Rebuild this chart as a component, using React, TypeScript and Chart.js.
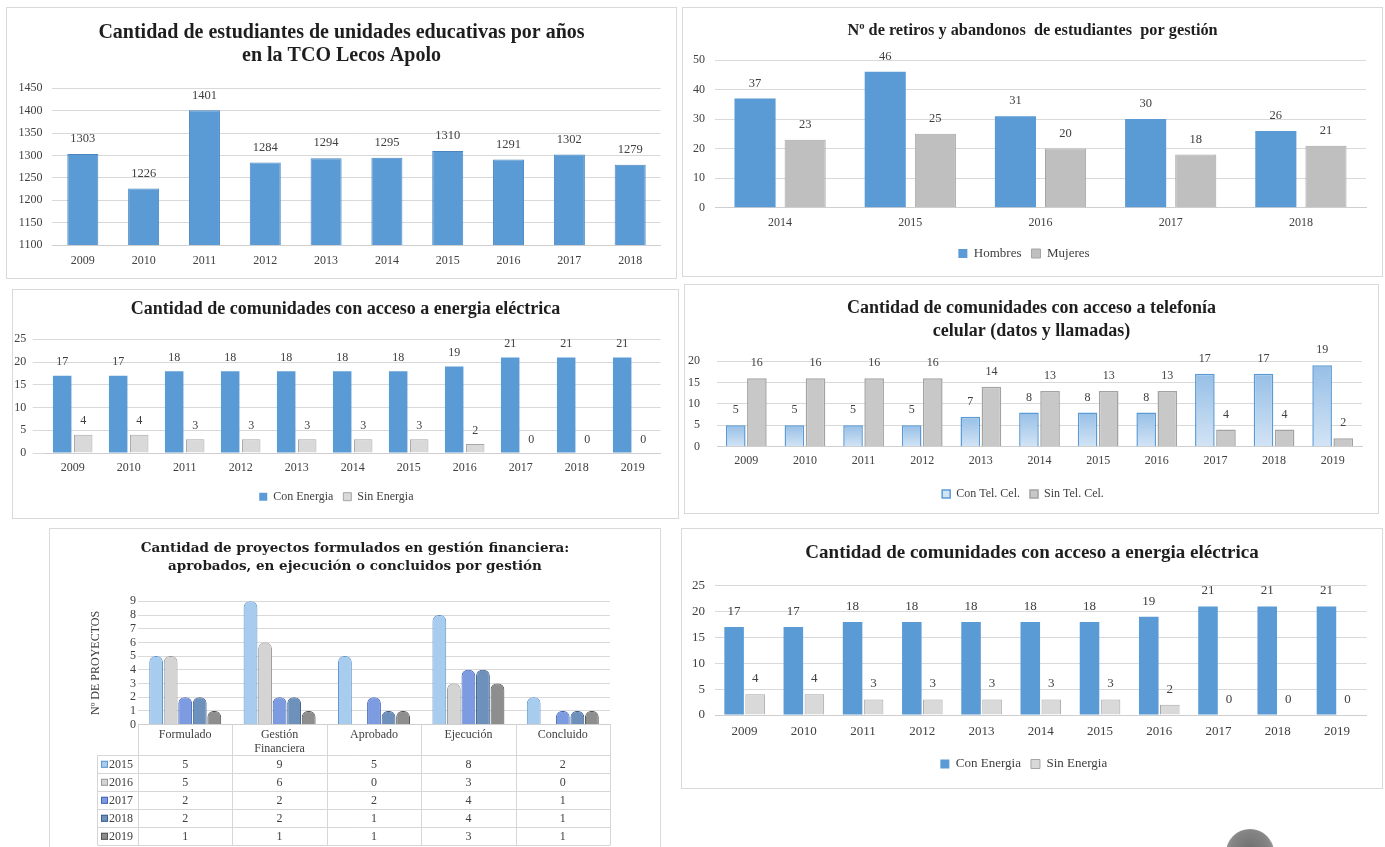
import React, { useEffect, useRef } from 'react';
import { Chart, registerables } from 'chart.js';

Chart.register(...registerables);

const SERIF = "'Liberation Serif', 'Times New Roman', serif";
const WIDE_SERIF = "'DejaVu Serif', 'Liberation Serif', serif";
Chart.defaults.font.family = SERIF;
Chart.defaults.color = '#404040';

// ---------- Data ----------
const studentTitle = ['Cantidad de estudiantes de unidades educativas por años', 'en la TCO Lecos Apolo'];
const studentYears = ['2009', '2010', '2011', '2012', '2013', '2014', '2015', '2016', '2017', '2018'];
const studentCounts = [1303, 1226, 1401, 1284, 1294, 1295, 1310, 1291, 1302, 1279];

const dropTitle = ['Nº de retiros y abandonos  de estudiantes  por gestión'];
const dropYears = ['2014', '2015', '2016', '2017', '2018'];
const dropMen = [37, 46, 31, 30, 26];
const dropWomen = [23, 25, 20, 18, 21];

const energyTitle = ['Cantidad de comunidades con acceso a energia eléctrica'];
const energyYears = ['2009', '2010', '2011', '2012', '2013', '2014', '2015', '2016', '2017', '2018', '2019'];
const energyWith = [17, 17, 18, 18, 18, 18, 18, 19, 21, 21, 21];
const energyWithout = [4, 4, 3, 3, 3, 3, 3, 2, 0, 0, 0];

const phoneTitle = ['Cantidad de comunidades con acceso a telefonía', 'celular (datos y llamadas)'];
const phoneYears = ['2009', '2010', '2011', '2012', '2013', '2014', '2015', '2016', '2017', '2018', '2019'];
const phoneWith = [5, 5, 5, 5, 7, 8, 8, 8, 17, 17, 19];
const phoneWithout = [16, 16, 16, 16, 14, 13, 13, 13, 4, 4, 2];

const projectTitle = ['Cantidad de proyectos formulados en gestión financiera:', 'aprobados, en ejecución o concluidos por gestión'];
const projectStages = [['Formulado'], ['Gestión', 'Financiera'], ['Aprobado'], ['Ejecución'], ['Concluido']];
const projectYears = ['2015', '2016', '2017', '2018', '2019'];
const projects2015 = [5, 9, 5, 8, 2];
const projects2016 = [5, 6, 0, 3, 0];
const projects2017 = [2, 2, 2, 4, 1];
const projects2018 = [2, 2, 1, 4, 1];
const projects2019 = [1, 1, 1, 3, 1];

// ---------- Styling ----------
const GRID = '#D9D9D9';
const TEXT = '#404040';
const BLUE = '#5B9BD5';

function titlePlugin(lines: string[], size: number, centers: number[], family: string = SERIF) {
  return {
    id: 'panelTitle',
    afterDraw(chart: any) {
      const ctx = chart.ctx;
      ctx.save();
      ctx.font = `bold ${size}px ${family}`;
      ctx.fillStyle = '#1E1E1E';
      ctx.textAlign = 'center';
      ctx.textBaseline = 'middle';
      lines.forEach((line, i) => ctx.fillText(line, chart.width / 2, centers[i]));
      ctx.restore();
    },
  };
}

function valueLabelPlugin(offset: number, size: number) {
  return {
    id: 'valueLabels',
    afterDatasetsDraw(chart: any) {
      const ctx = chart.ctx;
      ctx.save();
      ctx.font = `${size}px ${SERIF}`;
      ctx.fillStyle = TEXT;
      ctx.textAlign = 'center';
      ctx.textBaseline = 'middle';
      chart.data.datasets.forEach((ds: any, i: number) => {
        const meta = chart.getDatasetMeta(i);
        meta.data.forEach((el: any, j: number) => {
          ctx.fillText(String(ds.data[j]), el.x, el.y - offset);
        });
      });
      ctx.restore();
    },
  };
}

const projectTablePlugin = {
  id: 'projectTable',
  afterDraw(chart: any) {
    const { ctx, chartArea } = chart;
    const x = chart.scales.x;
    const n = chart.data.labels.length;
    const step = x.getPixelForValue(1) - x.getPixelForValue(0);
    const start = x.getPixelForValue(0) - step / 2;
    const end = start + step * n;
    const headTop = chartArea.bottom;
    const headBottom = headTop + 30.7;
    const rowH = 18;
    const rows = chart.data.datasets.length;
    const tableBottom = headBottom + rowH * rows;
    const colLeft = chartArea.left - 41;
    ctx.save();
    ctx.strokeStyle = '#D6D6D6';
    ctx.lineWidth = 1;
    ctx.beginPath();
    for (let i = 0; i <= n; i++) {
      const px = Math.round(start + step * i) + 0.5;
      ctx.moveTo(px, headTop);
      ctx.lineTo(px, tableBottom);
    }
    const lx = Math.round(colLeft) + 0.5;
    ctx.moveTo(lx, headBottom);
    ctx.lineTo(lx, tableBottom);
    for (let r = 0; r <= rows; r++) {
      const py = Math.round(headBottom + rowH * r) + 0.5;
      ctx.moveTo(lx, py);
      ctx.lineTo(end, py);
    }
    ctx.stroke();
    ctx.font = `12px ${SERIF}`;
    ctx.textBaseline = 'middle';
    chart.data.datasets.forEach((ds: any, r: number) => {
      const cy = headBottom + rowH * r + rowH / 2;
      ctx.fillStyle = ds.backgroundColor;
      ctx.strokeStyle = ds.borderColor;
      ctx.fillRect(colLeft + 4, cy - 3.5, 7, 7);
      ctx.strokeRect(colLeft + 4.5, cy - 3, 6, 6);
      ctx.fillStyle = TEXT;
      ctx.textAlign = 'left';
      ctx.fillText(ds.label, colLeft + 12, cy + 0.5);
      ctx.textAlign = 'center';
      ds.data.forEach((v: number, i: number) => {
        ctx.fillText(String(v), x.getPixelForValue(i), cy + 0.5);
      });
    });
    ctx.restore();
  },
};

function barConfig(o: any) {
  return {
    type: 'bar',
    data: {
      labels: o.labels,
      datasets: o.datasets.map((d: any) => ({
        borderWidth: 0,
        ...d,
        categoryPercentage: o.catPct,
        barPercentage: o.barPct,
      })),
    },
    options: {
      responsive: false,
      animation: false,
      events: [],
      layout: { padding: { left: 0, right: o.padRight, top: o.padTop, bottom: o.padBottom } },
      plugins: {
        title: { display: false },
        legend: o.legend
          ? {
              display: true,
              position: 'bottom',
              labels: {
                color: TEXT,
                font: { family: SERIF, size: o.legendSize },
                boxWidth: o.legendBox,
                boxHeight: o.legendBox,
                padding: 10,
              },
            }
          : { display: false },
        tooltip: { enabled: false },
      },
      scales: {
        x: {
          grid: { display: false, drawTicks: false },
          border: { display: true, color: '#CFCFCF', width: 1 },
          ticks: {
            color: TEXT,
            font: { family: SERIF, size: o.xSize, lineHeight: o.xLH || 1.2 },
            padding: o.xPad,
            maxRotation: 0,
            minRotation: 0,
            autoSkip: false,
          },
          afterFit: (s: any) => {
            s.height = o.xHeight;
          },
        },
        y: {
          min: o.yMin,
          max: o.yMax,
          grid: { color: GRID, lineWidth: 1, drawTicks: !!o.yTick, tickLength: o.yTick || 0 },
          border: { display: false },
          ticks: {
            stepSize: o.yStep,
            autoSkip: false,
            color: TEXT,
            font: { family: SERIF, size: o.ySize },
            padding: o.yPad,
            callback: (v: any) => String(v),
          },
          title: o.yTitle
            ? {
                display: true,
                text: o.yTitle,
                color: TEXT,
                font: { family: SERIF, size: 12 },
                padding: { top: o.yTitlePad, bottom: 0 },
              }
            : { display: false },
          afterFit: (s: any) => {
            s.width = o.yWidth;
          },
        },
      },
    },
    plugins: [titlePlugin(o.title, o.titleSize, o.titleCenters, o.titleFamily || SERIF), ...(o.plugins || [])],
  };
}

function phoneGradient(c: any) {
  const chart = c.chart;
  if (c.type !== 'data' || !chart.chartArea || !chart.scales.y) return '#A9CBEB';
  const y = chart.scales.y;
  const top = y.getPixelForValue(c.raw);
  const bottom = y.getPixelForValue(0);
  if (!isFinite(top) || !isFinite(bottom) || top === bottom) return '#A9CBEB';
  const g = chart.ctx.createLinearGradient(0, top, 0, bottom);
  g.addColorStop(0, '#96BFE6');
  g.addColorStop(1, '#D3E4F5');
  return g;
}

// ---------- Chart factories ----------
const makeStudents = () =>
  barConfig({
    labels: studentYears,
    datasets: [{ label: 'Estudiantes', data: studentCounts, backgroundColor: BLUE, borderColor: '#4A85C0', borderWidth: 1 }],
    catPct: 1, barPct: 0.51,
    padRight: 16.4, padTop: 81.3, padBottom: 10,
    title: studentTitle, titleSize: 20, titleCenters: [26, 49.3],
    legend: false,
    xSize: 12, xPad: 8.8, xHeight: 24,
    yMin: 1100, yMax: 1450, yStep: 50, ySize: 12, yPad: 10, yWidth: 46.4,
    plugins: [valueLabelPlugin(15, 12.5)],
  });

const makeDropouts = () =>
  barConfig({
    labels: dropYears,
    datasets: [
      { label: 'Hombres', data: dropMen, backgroundColor: BLUE, borderColor: BLUE, borderWidth: 0 },
      { label: 'Mujeres', data: dropWomen, backgroundColor: '#BFBFBF', borderColor: '#A5A5A5', borderWidth: 1 },
    ],
    catPct: 0.77, barPct: 0.82,
    padRight: 17, padTop: 53, padBottom: 7,
    title: dropTitle, titleSize: 16.3, titleCenters: [23.7],
    legend: true, legendSize: 13, legendBox: 9,
    xSize: 12, xPad: 7.8, xHeight: 29.3,
    yMin: 0, yMax: 50, yStep: 10, ySize: 12, yPad: 10, yWidth: 33,
    plugins: [valueLabelPlugin(15, 12.5)],
  });

const makeEnergyA = () =>
  barConfig({
    labels: energyYears,
    datasets: [
      { label: 'Con Energia', data: energyWith, backgroundColor: BLUE, borderColor: BLUE, borderWidth: 0 },
      { label: 'Sin Energia', data: energyWithout, backgroundColor: '#D9D9D9', borderColor: '#A6A6A6', borderWidth: 1 },
    ],
    catPct: 0.75, barPct: 0.88,
    padRight: 18.3, padTop: 50.3, padBottom: 6.3,
    title: energyTitle, titleSize: 18, titleCenters: [20],
    legend: true, legendSize: 12, legendBox: 8,
    xSize: 12, xPad: 8.1, xHeight: 27.7,
    yMin: 0, yMax: 25, yStep: 5, ySize: 12, yPad: 6.5, yWidth: 32.7, yTick: 12,
    plugins: [valueLabelPlugin(13.5, 12)],
  });

const makePhone = () =>
  barConfig({
    labels: phoneYears,
    datasets: [
      { label: 'Con Tel. Cel.', data: phoneWith, backgroundColor: phoneGradient, borderColor: BLUE, borderWidth: 1.5 },
      { label: 'Sin Tel. Cel.', data: phoneWithout, backgroundColor: '#C8C8C8', borderColor: '#A3A3A3', borderWidth: 1.5 },
    ],
    catPct: 0.72, barPct: 0.93,
    padRight: 17, padTop: 77, padBottom: 4,
    title: phoneTitle, titleSize: 18, titleCenters: [24.3, 47.7],
    legend: true, legendSize: 12, legendBox: 8,
    xSize: 12, xPad: 6.8, xHeight: 31.3,
    yMin: 0, yMax: 20, yStep: 5, ySize: 12, yPad: 17, yWidth: 33,
    plugins: [valueLabelPlugin(15, 12)],
  });

const makeProjects = () =>
  barConfig({
    labels: projectStages,
    datasets: [
      { label: projectYears[0], data: projects2015, backgroundColor: '#A8CCEE', borderColor: '#5E97D1', borderWidth: 1 },
      { label: projectYears[1], data: projects2016, backgroundColor: '#D4D4D4', borderColor: '#9A9A9A', borderWidth: 1 },
      { label: projectYears[2], data: projects2017, backgroundColor: '#7D9BE0', borderColor: '#4565B8', borderWidth: 1 },
      { label: projectYears[3], data: projects2018, backgroundColor: '#6E91BC', borderColor: '#3E5F8C', borderWidth: 1 },
      { label: projectYears[4], data: projects2019, backgroundColor: '#8E8E8E', borderColor: '#555555', borderWidth: 1 },
    ].map((d) => ({ ...d, borderRadius: { topLeft: 6, topRight: 6 }, borderSkipped: 'start' })),
    catPct: 0.77, barPct: 0.95,
    padRight: 51, padTop: 73.3, padBottom: 0,
    title: projectTitle, titleSize: 13.5, titleCenters: [20.3, 38], titleFamily: WIDE_SERIF,
    legend: false,
    xSize: 12, xLH: 1.1, xPad: 4.1, xHeight: 122.4,
    yMin: 0, yMax: 9, yStep: 1, ySize: 12, yPad: 2, yWidth: 89,
    yTitle: 'Nº DE PROYECTOS', yTitlePad: 39.3,
    plugins: [projectTablePlugin],
  });

const makeEnergyB = () =>
  barConfig({
    labels: energyYears,
    datasets: [
      { label: 'Con Energia', data: energyWith, backgroundColor: BLUE, borderColor: BLUE, borderWidth: 0 },
      { label: 'Sin Energia', data: energyWithout, backgroundColor: '#D9D9D9', borderColor: '#A6A6A6', borderWidth: 1 },
    ],
    catPct: 0.71, barPct: 0.93,
    padRight: 16.4, padTop: 57.7, padBottom: 8.5,
    title: energyTitle, titleSize: 19, titleCenters: [25],
    legend: true, legendSize: 13, legendBox: 9,
    xSize: 13, xPad: 8.9, xHeight: 32.5,
    yMin: 0, yMax: 25, yStep: 5, ySize: 13, yPad: 10, yWidth: 34,
    plugins: [valueLabelPlugin(15.5, 13)],
  });

// ---------- Components ----------
function Panel({ x, y, w, h, make, noBottom }: { x: number; y: number; w: number; h: number; make: () => any; noBottom?: boolean }) {
  const ref = useRef<HTMLCanvasElement>(null);
  useEffect(() => {
    if (!ref.current) return;
    const chart = new Chart(ref.current, make());
    return () => chart.destroy();
  }, [make]);
  return (
    <div style={{ position: 'absolute', left: x, top: y, width: w, height: h }}>
      <canvas ref={ref} width={w} height={h} style={{ display: 'block', width: w, height: h }} />
      <div
        style={{
          position: 'absolute',
          left: 0,
          top: 0,
          width: w,
          height: noBottom ? h + 4 : h,
          boxSizing: 'border-box',
          border: '1.5px solid #D9D9D9',
          pointerEvents: 'none',
        }}
      />
    </div>
  );
}

export default function App() {
  return (
    <div
      style={{
        position: 'absolute',
        left: 0,
        top: 0,
        width: 1385,
        height: 847,
        overflow: 'hidden',
        background: '#FFFFFF',
      }}
    >
      <Panel x={6} y={7} w={671} h={272} make={makeStudents} />
      <Panel x={682} y={7} w={701} h={270} make={makeDropouts} />
      <Panel x={12} y={289} w={667} h={230} make={makeEnergyA} />
      <Panel x={684} y={284} w={695} h={230} make={makePhone} />
      <Panel x={49} y={528} w={612} h={319} make={makeProjects} noBottom />
      <Panel x={681} y={528} w={702} h={261} make={makeEnergyB} />
      <div
        style={{
          position: 'absolute',
          left: 1226,
          top: 829,
          width: 48,
          height: 48,
          borderRadius: '50%',
          background: 'radial-gradient(circle at 50% 45%, #6E6E6E 0%, #858585 55%, #B5B5B5 85%, #E5E5E5 100%)',
        }}
      />
    </div>
  );
}
